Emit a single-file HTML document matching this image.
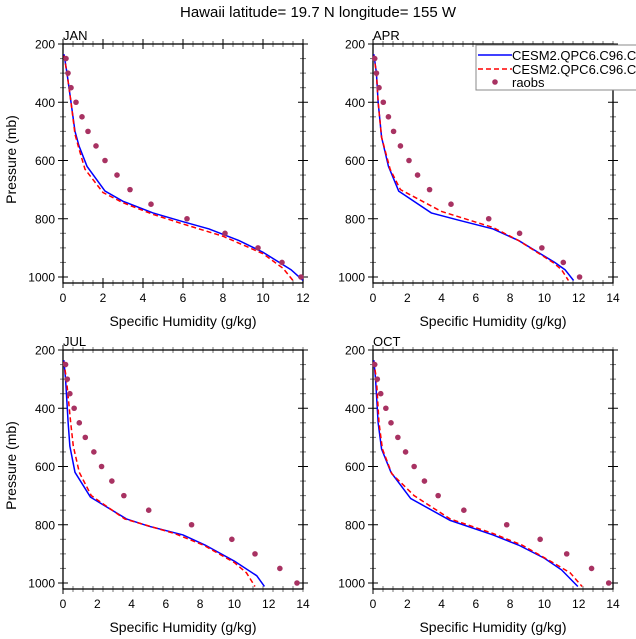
<!DOCTYPE html>
<html><head><meta charset="utf-8"><style>
body{margin:0;background:#fff;}
svg{display:block;font-family:"Liberation Sans",sans-serif;}
</style></head><body>
<svg id="c" width="636" height="639" xmlns="http://www.w3.org/2000/svg">
<text x="318" y="17" text-anchor="middle" font-size="15">Hawaii  latitude= 19.7 N longitude= 155 W</text>
</svg>
<script>
const raobsP=[250,300,350,400,450,500,550,600,650,700,750,800,850,900,950,1000];
const janRaobs=[0.15,0.25,0.4,0.65,0.95,1.25,1.65,2.1,2.7,3.35,4.4,6.2,8.1,9.75,10.95,11.9];
const aprRaobs=[0.1,0.2,0.35,0.6,0.9,1.2,1.6,2.1,2.6,3.3,4.55,6.75,8.55,9.85,11.1,12.05];
const julRaobs=[0.15,0.25,0.4,0.65,0.95,1.3,1.8,2.25,2.85,3.55,5.0,7.5,9.85,11.2,12.65,13.65];
const octRaobs=[0.1,0.25,0.45,0.75,1.05,1.45,1.9,2.4,3.0,3.8,5.3,7.8,9.75,11.3,12.75,13.75];
const janBlueQ=[0.05,0.2,0.4,0.6,0.8,1.2,2.1,3,4.5,6,7.3,8.8,10,11.4,12];
const janBlueP=[235,300,400,500,550,620,705,740,780,810,835,875,915,975,1012];
const janRedQ=[0.05,0.2,0.4,0.6,0.8,1.1,2,3,4.5,6,8,10,11,11.5];
const janRedP=[240,300,400,510,560,630,710,745,785,818,860,920,970,1012];
const aprBlueQ=[0.05,0.2,0.3,0.5,0.9,1.5,3.4,5,7,8.5,10.6,11.2,11.7];
const aprBlueP=[235,300,400,520,620,705,780,805,835,875,950,975,1012];
const aprRedQ=[0.05,0.2,0.3,0.5,1.0,1.6,4,7,8.5,10.5,11.0,11.4];
const aprRedP=[240,300,400,520,630,700,775,830,875,950,975,1012];
const julBlueQ=[0.05,0.15,0.3,0.4,0.7,1.6,3.7,5,7,8.3,10,11.3,11.75];
const julBlueP=[235,300,450,530,620,705,780,805,835,870,925,975,1012];
const julRedQ=[0.05,0.2,0.45,0.6,0.95,1.65,3.6,6.5,8.2,10,10.7,11.2];
const julRedP=[240,300,450,530,620,700,780,830,870,930,965,1012];
const octBlueQ=[0.05,0.15,0.3,0.5,1.05,2.2,4.5,7,8.5,10,11,11.95];
const octBlueP=[235,300,450,540,620,710,785,835,870,915,955,1012];
const octRedQ=[0.05,0.2,0.35,0.55,1.1,2.4,4.5,7,8.7,10.5,11.5,12.2];
const octRedP=[240,300,450,540,625,700,780,830,870,930,965,1012];
const pTicks=[200,400,600,800,1000];

const NS="http://www.w3.org/2000/svg";
const svg=document.getElementById('c');
function mk(t,a,parent){const e=document.createElementNS(NS,t);for(const k in a)e.setAttribute(k,a[k]);(parent||svg).appendChild(e);return e;}

const panels=[
 {name:'jan',label:'JAN',x0:63,y0:44,xmax:12,xt:[0,2,4,6,8,10,12],raobs:janRaobs,bq:janBlueQ,bp:janBlueP,rq:janRedQ,rp:janRedP},
 {name:'apr',label:'APR',x0:373,y0:44,xmax:14,xt:[0,2,4,6,8,10,12,14],raobs:aprRaobs,bq:aprBlueQ,bp:aprBlueP,rq:aprRedQ,rp:aprRedP},
 {name:'jul',label:'JUL',x0:63,y0:350,xmax:14,xt:[0,2,4,6,8,10,12,14],raobs:julRaobs,bq:julBlueQ,bp:julBlueP,rq:julRedQ,rp:julRedP},
 {name:'oct',label:'OCT',x0:373,y0:350,xmax:14,xt:[0,2,4,6,8,10,12,14],raobs:octRaobs,bq:octBlueQ,bp:octBlueP,rq:octRedQ,rp:octRedP}
];
const W=240,PMIN=200,PPX=233/800,H=239;
panels.forEach(pn=>{
 const g=mk('g',{});
 
 
 const X=q=>pn.x0+q/pn.xmax*W;
 const Y=p=>pn.y0+(p-PMIN)*PPX;
 const t=mk('text',{x:pn.x0,y:pn.y0-4,'font-size':13},g);t.textContent=pn.label;
 
 
 for(let p=200;p<=1000;p+=50){const maj=pTicks.includes(p);const L=maj?5:3;
  const col=maj?'#000':'#777';
  mk('line',{x1:pn.x0-L,x2:pn.x0+L,y1:Y(p),y2:Y(p),stroke:col,'stroke-width':1},g);
  mk('line',{x1:pn.x0+W-L,x2:pn.x0+W+L,y1:Y(p),y2:Y(p),stroke:col,'stroke-width':1},g);}
 pTicks.forEach(p=>{const tt=mk('text',{x:pn.x0-8,y:Y(p)+4.5,'font-size':12,'text-anchor':'end'},g);tt.textContent=p;
  
  });
 const step=pn.xmax/24;
 for(let i=0;i<=24;i++){const q=i*step;const maj=(i%(24/(pn.xt.length-1)))===0;const L=maj?5:3;
  const col=maj?'#000':'#777';
  mk('line',{x1:X(q),x2:X(q),y1:pn.y0+H-L,y2:pn.y0+H+L,stroke:col,'stroke-width':1},g);
  mk('line',{x1:X(q),x2:X(q),y1:pn.y0-L,y2:pn.y0+L,stroke:col,'stroke-width':1},g);}
 pn.xt.forEach(q=>{const tt=mk('text',{x:X(q),y:pn.y0+H+19,'font-size':12,'text-anchor':'middle'},g);tt.textContent=q;
  
  });
 mk('rect',{x:pn.x0,y:pn.y0,width:W,height:H,fill:'none',stroke:'#000','stroke-width':1.3},g);
 const xl=mk('text',{x:pn.x0+W/2,y:pn.y0+H+43,'font-size':14,'text-anchor':'middle'},g);xl.textContent='Specific Humidity (g/kg)';
 
 
 if(pn.x0<100){const yl=mk('text',{x:0,y:0,'font-size':14,'text-anchor':'middle',transform:`translate(16,${pn.y0+H/2-4}) rotate(-90)`},g);yl.textContent='Pressure (mb)';
  
  }
 const b=mk('polyline',{points:pn.bq.map((q,i)=>X(q)+','+Y(pn.bp[i])).join(' '),fill:'none',stroke:'#0000ff','stroke-width':1.5},g);
 
 
 const r=mk('polyline',{points:pn.rq.map((q,i)=>X(q)+','+Y(pn.rp[i])).join(' '),fill:'none',stroke:'#ff0000','stroke-width':1.5,'stroke-dasharray':'5,3'},g);
 
 
 pn.raobs.forEach((q,i)=>{const c=mk('circle',{cx:X(q),cy:Y(raobsP[i]),r:2.8,fill:'#a83262'},g);
  
  });
});
const lg=mk('g',{});


mk('rect',{x:476,y:45,width:170,height:45,fill:'#fff',stroke:'#888','stroke-width':1},lg);
mk('line',{x1:478,x2:512,y1:55,y2:55,stroke:'#0000ff','stroke-width':1.5},lg);
mk('line',{x1:478,x2:512,y1:69,y2:69,stroke:'#ff0000','stroke-width':1.5,'stroke-dasharray':'5,3'},lg);
mk('circle',{cx:495,cy:82,r:2.8,fill:'#a83262'},lg);
[['CESM2.QPC6.C96.C96',60],['CESM2.QPC6.C96.C96',74],['raobs',87]].forEach(d=>{const t=mk('text',{x:512,y:d[1],'font-size':13},lg);t.textContent=d[0];
 
 });
</script>
</body></html>
